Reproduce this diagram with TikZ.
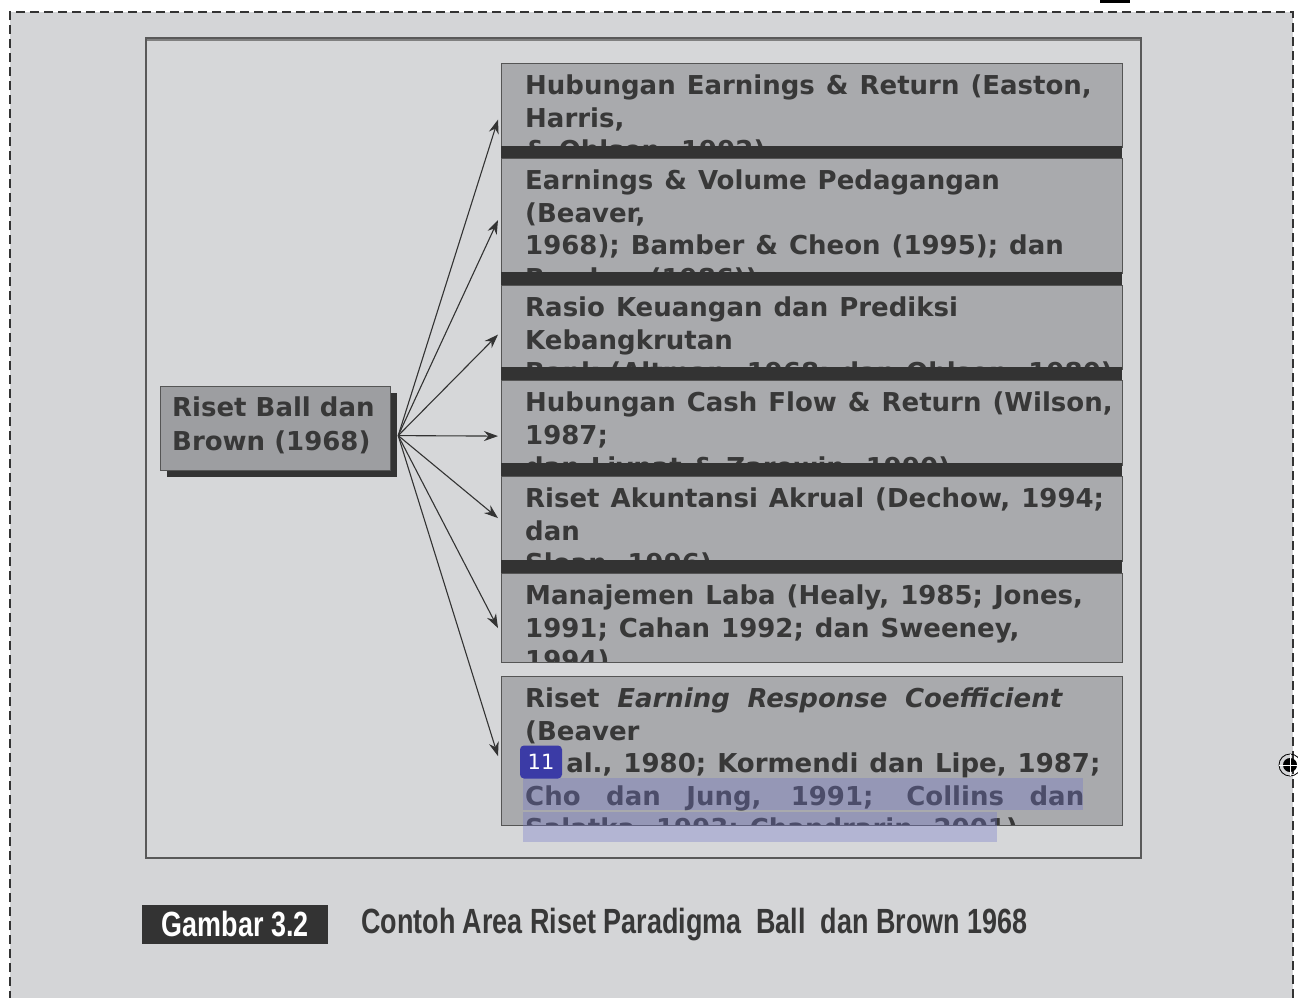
\documentclass[tikz,border=0pt]{standalone}
\usepackage{fontspec}
\setmainfont{DejaVu Sans}
\newfontfamily\capfont[FakeStretch=0.77]{Liberation Sans Bold}
\usetikzlibrary{arrows.meta,calc}
\definecolor{pagebg}{HTML}{D4D5D7}
\definecolor{framebg}{HTML}{D6D7D9}
\definecolor{boxfill}{HTML}{A9AAAD}
\definecolor{boxline}{HTML}{555555}
\definecolor{ink}{HTML}{383838}
\definecolor{barcol}{HTML}{333333}
\definecolor{hl}{HTML}{7276C8}
\definecolor{badge}{HTML}{3B3BA6}
\tikzset{
  rbox/.style={draw=boxline, fill=boxfill, line width=1.2pt, minimum width=621pt,
    inner sep=0pt, anchor=north west},
  boxtext/.style={anchor=north west, inner sep=0pt, align=left, text=ink,
    draw=none, fill=none, minimum width=0pt, minimum height=0pt,
    font={\fontsize{26}{32.5}\selectfont\bfseries\spaceskip=11pt plus 8pt minus 2pt}},
  bar/.style={fill=barcol, draw=none},
  conn/.style={draw=barcol, line width=1.1pt, -{Stealth[length=14pt,width=10pt]}},
  boxtxt/.style={path picture={\node[boxtext] at ([xshift=23pt,yshift=-11pt]path picture bounding box.north west) {#1};}},
}
\begin{document}
\begin{tikzpicture}[x=1pt,y=-1pt]
\useasboundingbox (0,0) rectangle (1298,997);
% page background
\fill[pagebg] (10,12) rectangle (1293,1000);
\draw[barcol, line width=2pt, dash pattern=on 9pt off 5pt] (10,1000) -- (10,12) -- (1293,12) -- (1293,1000);
\fill[black] (1100,0) rectangle (1130,3);
% inner frame
\draw[fill=framebg, draw=gray!70!black, line width=1.3pt] (146,38) rectangle (1141,858);
\draw[gray, line width=1.5pt] (147,40) -- (1140,40);
% source node
\fill[barcol] (167,393) rectangle (397,477);
\node[draw=boxline, fill=boxfill!93!black, line width=1.2pt, minimum width=230pt, minimum height=84pt,
  anchor=north west, inner sep=0pt] (src) at (160,386) {};
\node[anchor=west, align=left, inner sep=0pt, text=ink, font={\fontsize{26}{34}\selectfont\bfseries}]
  (srct) at (172,425) {Riset Ball dan\\Brown (1968)};
% target boxes
\node[rbox, minimum height=84pt, boxtxt={Hubungan Earnings \& Return (Easton,\\Harris,\\\& Ohlson, 1992)}] (b1) at (501,63) {};
\fill[bar] (501,146) rectangle (1122,158);
\node[rbox, minimum height=115pt, boxtxt={Earnings \& Volume Pedagangan\\(Beaver,\\1968); Bamber \& Cheon (1995); dan\\Bamber (1986))}] (b2) at (501,158) {};
\fill[bar] (501,272) rectangle (1122,285);
\node[rbox, minimum height=84pt, boxtxt={Rasio Keuangan dan Prediksi\\Kebangkrutan\\Bank (Altman, 1968; dan Ohlson, 1980)}] (b3) at (501,285) {};
\fill[bar] (501,367) rectangle (1122,380);
\node[rbox, minimum height=85pt, boxtxt={Hubungan Cash Flow \& Return (Wilson,\\1987;\\dan Livnat \& Zarowin, 1990)}] (b4) at (501,380) {};
\fill[bar] (501,463) rectangle (1122,476);
\node[rbox, minimum height=85pt, boxtxt={Riset Akuntansi Akrual (Dechow, 1994;\\dan\\Sloan, 1996)}] (b5) at (501,476) {};
\fill[bar] (501,560) rectangle (1122,573);
\node[rbox, minimum height=89pt, boxtxt={Manajemen Laba (Healy, 1985; Jones,\\1991; Cahan 1992; dan Sweeney,\\1994)}] (b6) at (501,573) {};
\node[rbox, minimum height=149pt, boxtxt={\makebox[537pt][s]{Riset \itshape Earning Response Coefficient}\\(Beaver\\et al., 1980; Kormendi dan Lipe, 1987;\\\makebox[559pt][s]{Cho dan Jung, 1991; Collins dan}\\Salatka, 1993; Chandrarin, 2001)}] (b7) at (501,676) {};
% connectors
\coordinate (o) at ([xshift=7pt,yshift=-7pt]src.east);
\draw[conn] (o) -- ([xshift=-3pt,yshift=-14pt]b1.west);
\draw[conn] (o) -- ([xshift=-3pt,yshift=-4pt]b2.west);
\draw[conn] (o) -- ([xshift=-3pt,yshift=-7pt]b3.west);
\draw[conn] (o) -- ([xshift=-3pt,yshift=-13pt]b4.west);
\draw[conn] (o) -- ([xshift=-3pt,yshift=1pt]b5.west);
\draw[conn] (o) -- ([xshift=-3pt,yshift=-10pt]b6.west);
\draw[conn] (o) -- ([xshift=-3pt,yshift=-5pt]b7.west);
% annotation overlays
\fill[hl, opacity=0.35] (523,778) rectangle (1083,810);
\fill[hl, opacity=0.35] (523,812) rectangle (997,842);
\node[fill=badge, rounded corners=4pt, minimum width=42pt, minimum height=33pt, inner sep=0pt,
  text=white, font={\fontsize{21}{21}\selectfont}] (badge11) at (541,762) {11};
% crosshair
\draw[black, line width=0.8pt] (1290,765) circle (11);
\fill[black] (1290,765) circle (7);
\draw[white, line width=0.7pt] (1279,765) -- (1298,765) (1290,754) -- (1290,776);
% caption
\node[fill=barcol, minimum width=186pt, minimum height=39pt, inner sep=0pt, anchor=north west] (fig) at (142,905) {};
\node[anchor=base, inner sep=0pt, text=white, font={\capfont\fontsize{35}{35}\selectfont}]
  (figt) at ([yshift=-12pt]fig.center) {Gambar 3.2};
\node[anchor=base west, inner sep=0pt, text=ink, font={\capfont\fontsize{35}{35}\selectfont}]
  (cap) at (361,933) {Contoh Area Riset Paradigma\ \ Ball\ \ dan Brown 1968};
\end{tikzpicture}
\end{document}
